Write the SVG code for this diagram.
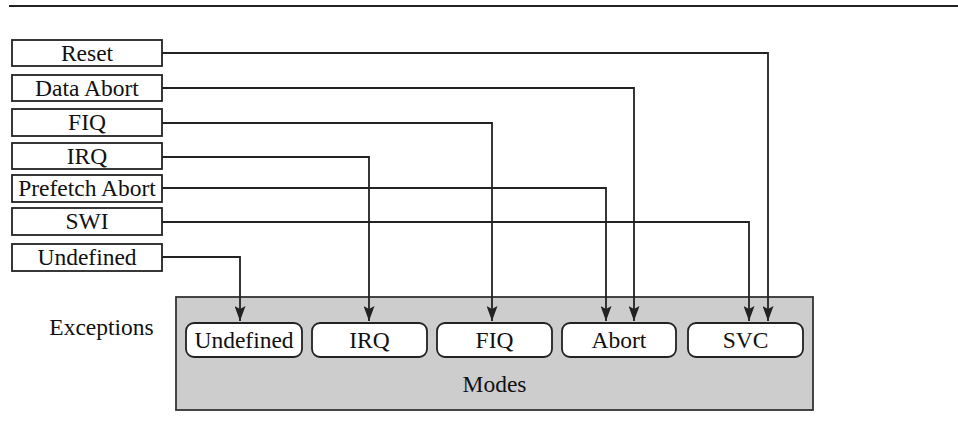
<svg xmlns="http://www.w3.org/2000/svg" width="958" height="444" viewBox="0 0 958 444" font-family="'Liberation Serif', 'Times New Roman', serif" font-size="23.5">
<defs>
<marker id="ah" viewBox="0 0 15 11" refX="15" refY="5.5" markerWidth="15" markerHeight="11" markerUnits="userSpaceOnUse" orient="auto">
<path d="M0,0 L15,5.5 L0,11 L3,5.5 Z" fill="#222"/>
</marker>
<style>
text{fill:#111;text-anchor:middle}
.exc rect{fill:#fff;stroke:#222;stroke-width:1.8}
.mode rect{fill:#fff;stroke:#222;stroke-width:1.8}
.conn path{fill:none;stroke:#222;stroke-width:1.8;marker-end:url(#ah)}
</style>
</defs>
<rect width="958" height="444" fill="#fff"/>
<line x1="9" y1="6" x2="958" y2="6" stroke="#222" stroke-width="1.8"/>
<g id="modes-frame">
<rect x="176" y="297" width="637" height="113" fill="#cdcdcd" stroke="#333" stroke-width="1.8"/>
<text x="494.5" y="392">Modes</text>
</g>
<text id="exceptions-label" x="101.5" y="335">Exceptions</text>
<g id="exc-reset" class="exc"><rect x="12" y="40" width="150" height="26"/><text x="87" y="61">Reset</text></g>
<g id="exc-dataabort" class="exc"><rect x="12" y="75" width="150" height="26"/><text x="87" y="96">Data Abort</text></g>
<g id="exc-fiq" class="exc"><rect x="12" y="109" width="150" height="27"/><text x="87" y="130">FIQ</text></g>
<g id="exc-irq" class="exc"><rect x="12" y="143" width="150" height="26"/><text x="87" y="164">IRQ</text></g>
<g id="exc-prefetch" class="exc"><rect x="12" y="175" width="150" height="27"/><text x="87" y="196">Prefetch Abort</text></g>
<g id="exc-swi" class="exc"><rect x="12" y="208" width="150" height="27"/><text x="87" y="229">SWI</text></g>
<g id="exc-undefined" class="exc"><rect x="12" y="244" width="150" height="27"/><text x="87" y="265">Undefined</text></g>
<g id="mode-undefined" class="mode"><rect x="186" y="323" width="116" height="34" rx="8"/><text x="244" y="348">Undefined</text></g>
<g id="mode-irq" class="mode"><rect x="312" y="323" width="115" height="34" rx="8"/><text x="369.5" y="348">IRQ</text></g>
<g id="mode-fiq" class="mode"><rect x="437" y="323" width="115" height="34" rx="8"/><text x="494.5" y="348">FIQ</text></g>
<g id="mode-abort" class="mode"><rect x="562" y="323" width="114" height="34" rx="8"/><text x="619" y="348">Abort</text></g>
<g id="mode-svc" class="mode"><rect x="688" y="323" width="115" height="34" rx="8"/><text x="745.5" y="348">SVC</text></g>
<g id="connectors" class="conn">
<path d="M162,53 H768 V321"/>
<path d="M162,88 H634 V321"/>
<path d="M162,123 H492 V321"/>
<path d="M162,157 H369 V321"/>
<path d="M162,188 H606 V321"/>
<path d="M162,222 H749 V321"/>
<path d="M162,257 H240 V321"/>
</g>
</svg>
